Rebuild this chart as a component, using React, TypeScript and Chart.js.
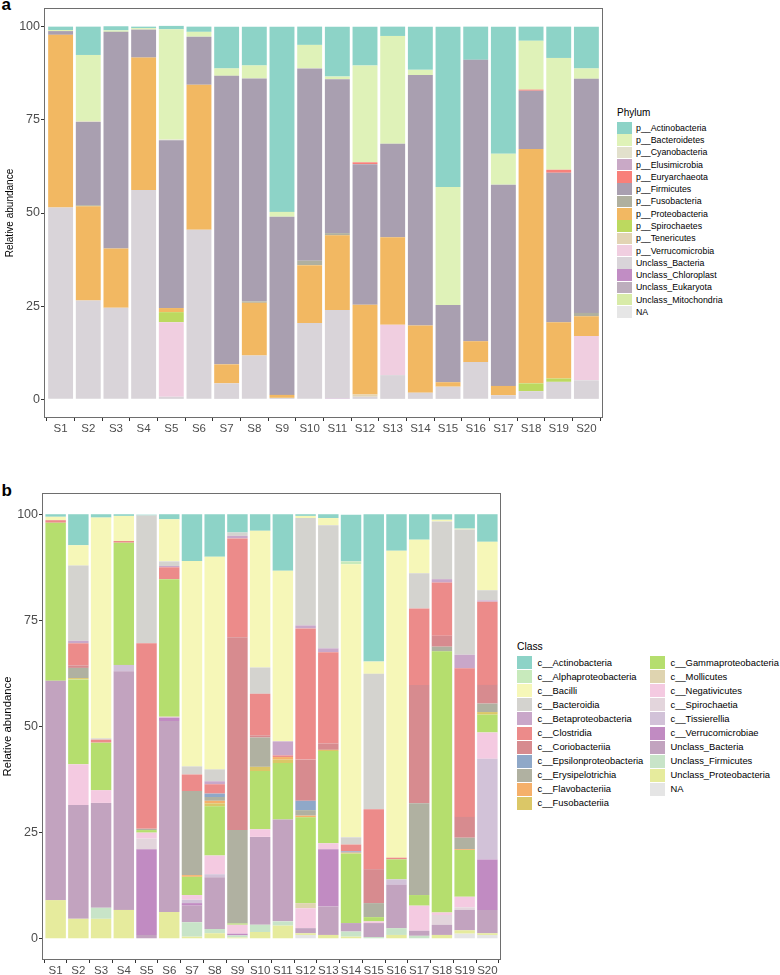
import React, { useEffect, useRef } from 'react';
import { Chart, registerables } from 'chart.js';
Chart.register(...registerables);

const FONT = "'Liberation Sans', Arial, Helvetica, sans-serif";

const samples = ['S1', 'S2', 'S3', 'S4', 'S5', 'S6', 'S7', 'S8', 'S9', 'S10', 'S11', 'S12', 'S13', 'S14', 'S15', 'S16', 'S17', 'S18', 'S19', 'S20'];
const yTicks = [0, 25, 50, 75, 100];

// ---------- Panel a: Phylum ----------
const pActinobacteria = [0.9, 7.6, 1.1, 0.4, 0.9, 1.4, 11.2, 10.4, 49.7, 4.9, 13.4, 10.4, 2.5, 11.6, 43.0, 8.9, 34.1, 3.8, 8.4, 11.2];
const pBacteroidetes = [0.3, 17.7, 0.4, 0.4, 29.6, 1.3, 2.0, 3.5, 1.3, 6.3, 0.7, 26.0, 28.9, 1.4, 31.7, 0, 8.3, 13.1, 30.0, 2.8];
const pCyanobacteria = [0, 0.3, 0, 0, 0.2, 0, 0, 0, 0, 0, 0, 0, 0, 0, 0, 0, 0, 0, 0, 0];
const pElusimicrobia = [0, 0, 0, 0, 0, 0, 0, 0, 0, 0, 0, 0, 0, 0, 0, 0, 0, 0, 0, 0];
const pEuryarchaeota = [0, 0, 0, 0, 0, 0, 0, 0, 0, 0, 0, 0.5, 0, 0, 0, 0, 0, 0.3, 0.8, 0];
const pFirmicutes = [1.0, 22.3, 58.1, 7.5, 45.0, 12.9, 77.4, 59.8, 47.8, 51.6, 41.3, 37.7, 25.1, 67.2, 20.7, 75.5, 54.0, 15.6, 40.1, 62.8];
const pFusobacteria = [0, 0.3, 0, 0, 0, 0, 0, 0.4, 0, 1.2, 0.6, 0, 0, 0, 0, 0, 0, 0, 0, 0.9];
const pProteobacteria = [46.3, 25.3, 15.9, 35.5, 1.1, 38.9, 5.1, 14.1, 0.8, 15.5, 20.0, 24.1, 23.5, 18.0, 1.2, 5.6, 2.5, 62.9, 15.1, 5.3];
const pSpirochaetes = [0, 0, 0, 0, 2.7, 0, 0, 0, 0, 0, 0, 0, 0, 0, 0, 0, 0, 2.1, 0.9, 0];
const pTenericutes = [0, 0, 0, 0, 0, 0, 0, 0, 0, 0, 0, 0.6, 0, 0, 0, 0, 0, 0, 0, 0];
const pVerrucomicrobia = [0, 0, 0, 0, 20.0, 0, 0, 0, 0, 0, 0, 0, 13.5, 0, 0, 0, 0, 0, 0, 11.9];
const pUnclassBacteria = [51.5, 26.5, 24.6, 56.2, 0.7, 45.5, 4.3, 11.8, 0.4, 20.5, 23.8, 0.7, 6.5, 1.8, 3.4, 10.0, 1.1, 2.2, 4.7, 5.1];
const pUnclassChloroplast = [0, 0, 0, 0, 0, 0, 0, 0, 0, 0, 0.2, 0, 0, 0, 0, 0, 0, 0, 0, 0];
const pUnclassEukaryota = [0, 0, 0, 0, 0, 0, 0, 0, 0, 0, 0, 0, 0, 0, 0, 0, 0, 0, 0, 0];
const pUnclassMitochondria = [0, 0, 0, 0, 0, 0, 0, 0, 0, 0, 0, 0, 0, 0, 0, 0, 0, 0, 0, 0];
const pNA = [0, 0, 0, 0, 0, 0, 0, 0, 0, 0, 0, 0, 0, 0, 0, 0, 0, 0, 0, 0];

const phylumSeries = [
  { name: 'p__Actinobacteria', color: '#8dd3c7', values: pActinobacteria },
  { name: 'p__Bacteroidetes', color: '#dff2b8', values: pBacteroidetes },
  { name: 'p__Cyanobacteria', color: '#e2e0cc', values: pCyanobacteria },
  { name: 'p__Elusimicrobia', color: '#c9a9c6', values: pElusimicrobia },
  { name: 'p__Euryarchaeota', color: '#f8807a', values: pEuryarchaeota },
  { name: 'p__Firmicutes', color: '#a99fb0', values: pFirmicutes },
  { name: 'p__Fusobacteria', color: '#b0b09f', values: pFusobacteria },
  { name: 'p__Proteobacteria', color: '#f2b862', values: pProteobacteria },
  { name: 'p__Spirochaetes', color: '#bcd95f', values: pSpirochaetes },
  { name: 'p__Tenericutes', color: '#e2d4b4', values: pTenericutes },
  { name: 'p__Verrucomicrobia', color: '#f0cee0', values: pVerrucomicrobia },
  { name: 'Unclass_Bacteria', color: '#d9d4d9', values: pUnclassBacteria },
  { name: 'Unclass_Chloroplast', color: '#c18dc4', values: pUnclassChloroplast },
  { name: 'Unclass_Eukaryota', color: '#bdaebd', values: pUnclassEukaryota },
  { name: 'Unclass_Mitochondria', color: '#d8eba8', values: pUnclassMitochondria },
  { name: 'NA', color: '#e6e6e6', values: pNA },
];

// ---------- Panel b: Class ----------
const cActinobacteria = [0.6, 7.3, 0.8, 0.4, 0.2, 1.2, 11.0, 10.0, 4.3, 3.9, 13.3, 0.4, 0.9, 11.0, 34.7, 8.6, 6.0, 1.3, 3.4, 6.5];
const cAlphaproteobacteria = [0, 0, 0, 0, 0, 0, 0, 0, 0, 0, 0, 0, 0, 0.7, 0, 0, 0, 0, 0, 0];
const cBacilli = [0.8, 4.8, 52.0, 5.9, 0, 9.9, 48.4, 50.1, 0, 32.2, 40.2, 0.5, 1.7, 64.3, 2.9, 72.3, 7.9, 0.4, 0.2, 11.4];
const cBacteroidia = [0, 17.7, 0.3, 0, 30.1, 1.1, 1.9, 2.8, 0.8, 6.2, 0, 25.3, 29.0, 1.7, 31.9, 0, 8.3, 13.6, 29.5, 2.4];
const cBetaproteobacteria = [0, 0.6, 0, 0, 0, 0.3, 0, 0.7, 0.6, 0, 3.3, 0.7, 0.9, 0, 0, 0, 0, 0.8, 3.2, 0.3];
const cClostridia = [0.6, 5.2, 0.7, 0.4, 43.7, 2.8, 3.9, 2.2, 23.3, 9.8, 0.4, 30.9, 21.5, 1.6, 14.1, 0.4, 18.0, 12.5, 35.0, 19.6];
const cCoriobacteriia = [0, 0.6, 0, 0, 0, 0, 0, 0, 45.4, 0.5, 0, 9.7, 1.5, 0, 8.0, 0, 27.9, 2.6, 4.9, 4.4];
const cEpsilonproteobacteria = [0, 0, 0, 0, 0, 0, 0, 0.8, 0, 0, 0, 2.2, 0, 0.3, 0, 0, 0, 0, 0, 0];
const cErysipelotrichia = [0, 2.4, 0, 0, 0.3, 0, 19.8, 0.9, 22.0, 6.9, 0, 1.3, 0, 0, 3.3, 0, 21.6, 1.1, 2.7, 2.0];
const cFlavobacteriia = [0, 0, 0, 0, 0, 0, 0.4, 0.6, 0, 0, 0.6, 0.4, 0, 0.2, 0, 0, 0, 0, 0.2, 0];
const cFusobacteriia = [0, 0.3, 0, 0, 0, 0, 0, 0.7, 0, 1.0, 0.8, 0, 0.3, 0, 0, 0, 0, 0, 0, 0.6];
const cGammaproteobacteria = [37.2, 20.0, 11.2, 28.8, 0.6, 32.4, 4.3, 11.6, 0.3, 13.7, 13.3, 20.2, 21.7, 16.4, 1.0, 4.7, 2.5, 61.5, 11.0, 4.2];
const cMollicutes = [0, 0, 0, 0, 0, 0, 0, 0, 0, 0, 0, 1.2, 0, 0, 0, 0, 0, 0, 0, 0];
const cNegativicutes = [0, 9.6, 3.0, 0, 1.4, 0.2, 1.1, 4.4, 2.1, 1.8, 0, 4.7, 1.4, 0, 0.4, 0, 5.9, 0.6, 2.5, 6.2];
const cSpirochaetia = [0, 0, 0, 0, 2.5, 0, 0, 0, 0, 0, 0, 0, 0, 0, 0, 0, 0, 2.3, 0.6, 0];
const cTissierellia = [0, 0, 0, 1.5, 0, 0, 0.8, 0.7, 0, 0, 0, 0, 0, 0, 0, 1.3, 0, 0, 0, 23.7];
const cVerrucomicrobiae = [0, 0, 0, 0, 20.2, 0.8, 0.6, 0, 0.4, 0, 0, 0, 13.5, 0, 0, 0, 0, 0, 0, 11.9];
const cUnclassBacteria = [51.7, 26.8, 24.7, 56.2, 0.9, 45.0, 3.9, 12.2, 0, 20.7, 24.0, 1.2, 6.7, 2.0, 3.3, 10.2, 1.2, 2.4, 4.8, 5.5];
const cUnclassFirmicutes = [0, 0, 2.6, 0, 0, 0, 3.4, 1.0, 0.5, 1.7, 1.0, 0, 0, 1.2, 0.4, 1.6, 0.7, 0, 0, 0];
const cUnclassProteobacteria = [9.1, 4.7, 4.7, 6.8, 0, 6.3, 0.5, 1.3, 0.3, 1.6, 3.1, 0.4, 0.9, 0.5, 0, 0.9, 0, 0.9, 0.8, 0.4];
const cNA = [0, 0, 0, 0, 0, 0, 0, 0, 0, 0, 0, 0.9, 0, 0, 0, 0, 0, 0, 1.2, 0.9];

const classSeries = [
  { name: 'c__Actinobacteria', color: '#8dd3c7', values: cActinobacteria },
  { name: 'c__Alphaproteobacteria', color: '#c8eabc', values: cAlphaproteobacteria },
  { name: 'c__Bacilli', color: '#f6f7b8', values: cBacilli },
  { name: 'c__Bacteroidia', color: '#d4d3cf', values: cBacteroidia },
  { name: 'c__Betaproteobacteria', color: '#c9a7c9', values: cBetaproteobacteria },
  { name: 'c__Clostridia', color: '#ec8b8a', values: cClostridia },
  { name: 'c__Coriobacteriia', color: '#d78b8f', values: cCoriobacteriia },
  { name: 'c__Epsilonproteobacteria', color: '#8fa8c8', values: cEpsilonproteobacteria },
  { name: 'c__Erysipelotrichia', color: '#b0b1a1', values: cErysipelotrichia },
  { name: 'c__Flavobacteriia', color: '#f5b06a', values: cFlavobacteriia },
  { name: 'c__Fusobacteriia', color: '#dbc767', values: cFusobacteriia },
  { name: 'c__Gammaproteobacteria', color: '#b5de6e', values: cGammaproteobacteria },
  { name: 'c__Mollicutes', color: '#dfd4b0', values: cMollicutes },
  { name: 'c__Negativicutes', color: '#f4cae1', values: cNegativicutes },
  { name: 'c__Spirochaetia', color: '#e3d5dc', values: cSpirochaetia },
  { name: 'c__Tissierellia', color: '#d2c2d8', values: cTissierellia },
  { name: 'c__Verrucomicrobiae', color: '#c18bc2', values: cVerrucomicrobiae },
  { name: 'Unclass_Bacteria', color: '#c2a3bf', values: cUnclassBacteria },
  { name: 'Unclass_Firmicutes', color: '#c8e4c8', values: cUnclassFirmicutes },
  { name: 'Unclass_Proteobacteria', color: '#e6eb9d', values: cUnclassProteobacteria },
  { name: 'NA', color: '#e5e5e5', values: cNA },
];

type Series = { name: string; color: string; values: number[] };

const panelBorder = {
  id: 'panelBorder',
  afterDraw(chart: any) {
    const { ctx, chartArea: a } = chart;
    ctx.save();
    ctx.strokeStyle = '#6e6e6e';
    ctx.lineWidth = 1;
    ctx.strokeRect(Math.round(a.left) + 0.5, Math.round(a.top) + 0.5, Math.round(a.width) - 1, Math.round(a.height) - 1);
    ctx.restore();
  },
};

type PanelProps = {
  series: Series[];
  left: number; top: number; width: number; height: number;
  padTop: number; padRight: number;
  yAxisWidth: number; xAxisHeight: number;
  titleSize: number; titlePad: number;
  yTickSize: number; xTickSize: number;
};

function StackedPanel(p: PanelProps) {
  const ref = useRef<HTMLCanvasElement>(null);
  useEffect(() => {
    const datasets = [...p.series].reverse().map((s) => ({
      label: s.name,
      data: s.values.map((v, i) => ({ x: i + 1, y: v })),
      backgroundColor: s.color,
      borderWidth: 0,
      barPercentage: 0.9,
      categoryPercentage: 1,
    }));
    const chart = new Chart(ref.current as HTMLCanvasElement, {
      type: 'bar',
      data: { datasets } as any,
      options: {
        animation: false,
        responsive: false,
        maintainAspectRatio: false,
        layout: { padding: { top: p.padTop, right: p.padRight, left: 0, bottom: 0 } },
        plugins: { legend: { display: false }, tooltip: { enabled: false } },
        scales: {
          x: {
            type: 'linear',
            stacked: true,
            min: 0.4,
            max: 20.6,
            offset: false,
            afterBuildTicks: (s: any) => { s.ticks = samples.map((_, i) => ({ value: i + 1 })); },
            afterFit: (s: any) => { s.height = p.xAxisHeight; s.paddingLeft = 0; s.paddingRight = 0; },
            ticks: {
              autoSkip: false, maxRotation: 0, minRotation: 0, padding: 1,
              color: '#4d4d4d', font: { family: FONT, size: p.xTickSize },
              callback: (v: any) => samples[Math.round(Number(v)) - 1] ?? '',
            },
            grid: { display: true, drawOnChartArea: false, drawTicks: true, tickLength: 3, color: '#333333', lineWidth: 1 },
            border: { display: false },
          },
          y: {
            type: 'linear',
            stacked: true,
            min: -5,
            max: 105,
            afterBuildTicks: (s: any) => { s.ticks = yTicks.map((v) => ({ value: v })); },
            afterFit: (s: any) => { s.width = p.yAxisWidth; s.paddingTop = 0; s.paddingBottom = 0; },
            ticks: {
              padding: 1, color: '#4d4d4d', font: { family: FONT, size: p.yTickSize },
              callback: (v: any) => String(v),
            },
            grid: { display: true, drawOnChartArea: false, drawTicks: true, tickLength: 3, color: '#333333', lineWidth: 1 },
            border: { display: false },
            title: {
              display: true, text: 'Relative abundance', color: '#000000',
              font: { family: FONT, size: p.titleSize }, padding: { top: p.titlePad, bottom: 0 },
            },
          },
        },
      } as any,
      plugins: [panelBorder],
    });
    return () => chart.destroy();
  }, []);
  return (
    <canvas
      ref={ref}
      width={p.width}
      height={p.height}
      style={{ position: 'absolute', left: p.left, top: p.top, width: p.width, height: p.height }}
    />
  );
}

type LegendProps = {
  title: string; items: Series[];
  colX: number[]; perCol: number; textOffset: number;
  titleCenterY: number; titleSize: number;
  rowCenter0: number; rowH: number; keyW: number; keyH: number; textSize: number;
};

function Legend(l: LegendProps) {
  return (
    <>
      <div style={{ position: 'absolute', left: l.colX[0], top: l.titleCenterY - 8, height: 16, lineHeight: '16px', fontSize: l.titleSize, fontFamily: FONT, color: '#000', whiteSpace: 'nowrap' }}>
        {l.title}
      </div>
      {l.items.map((it, i) => {
        const col = Math.floor(i / l.perCol);
        const row = i % l.perCol;
        const cy = l.rowCenter0 + row * l.rowH;
        const x = l.colX[col];
        return (
          <React.Fragment key={it.name}>
            <div style={{ position: 'absolute', left: x, top: cy - l.keyH / 2, width: l.keyW, height: l.keyH, background: it.color }} />
            <div style={{ position: 'absolute', left: x + l.textOffset, top: cy - 8, height: 16, lineHeight: '16px', fontSize: l.textSize, fontFamily: FONT, color: '#000', whiteSpace: 'nowrap' }}>
              {it.name}
            </div>
          </React.Fragment>
        );
      })}
    </>
  );
}

export default function App() {
  return (
    <div style={{ position: 'absolute', left: 0, top: 0, width: 780, height: 975, overflow: 'hidden', background: '#fff', fontFamily: FONT }}>
      <div style={{ position: 'absolute', left: 1.5, top: -4.4, fontSize: 17, lineHeight: '17px', fontWeight: 'bold', color: '#000' }}>a</div>
      <div style={{ position: 'absolute', left: 1.5, top: 481.6, fontSize: 17, lineHeight: '17px', fontWeight: 'bold', color: '#000' }}>b</div>
      <StackedPanel
        series={phylumSeries}
        left={0} top={0} width={610} height={440}
        padTop={8} padRight={7}
        yAxisWidth={44} xAxisHeight={22}
        titleSize={10} titlePad={4}
        yTickSize={12.5} xTickSize={11.5}
      />
      <Legend
        title="Phylum" items={phylumSeries}
        colX={[617]} perCol={16} textOffset={19}
        titleCenterY={113} titleSize={10}
        rowCenter0={127.8} rowH={12.28} keyW={15} keyH={11.5} textSize={8.8}
      />
      <StackedPanel
        series={classSeries}
        left={0} top={480} width={510} height={495}
        padTop={13} padRight={9}
        yAxisWidth={42} xAxisHeight={15}
        titleSize={11.3} titlePad={1}
        yTickSize={12.5} xTickSize={11.5}
      />
      <Legend
        title="Class" items={classSeries}
        colX={[517, 650]} perCol={11} textOffset={20.5}
        titleCenterY={647} titleSize={10.3}
        rowCenter0={662.7} rowH={14.07} keyW={15} keyH={13} textSize={9.4}
      />
    </div>
  );
}
